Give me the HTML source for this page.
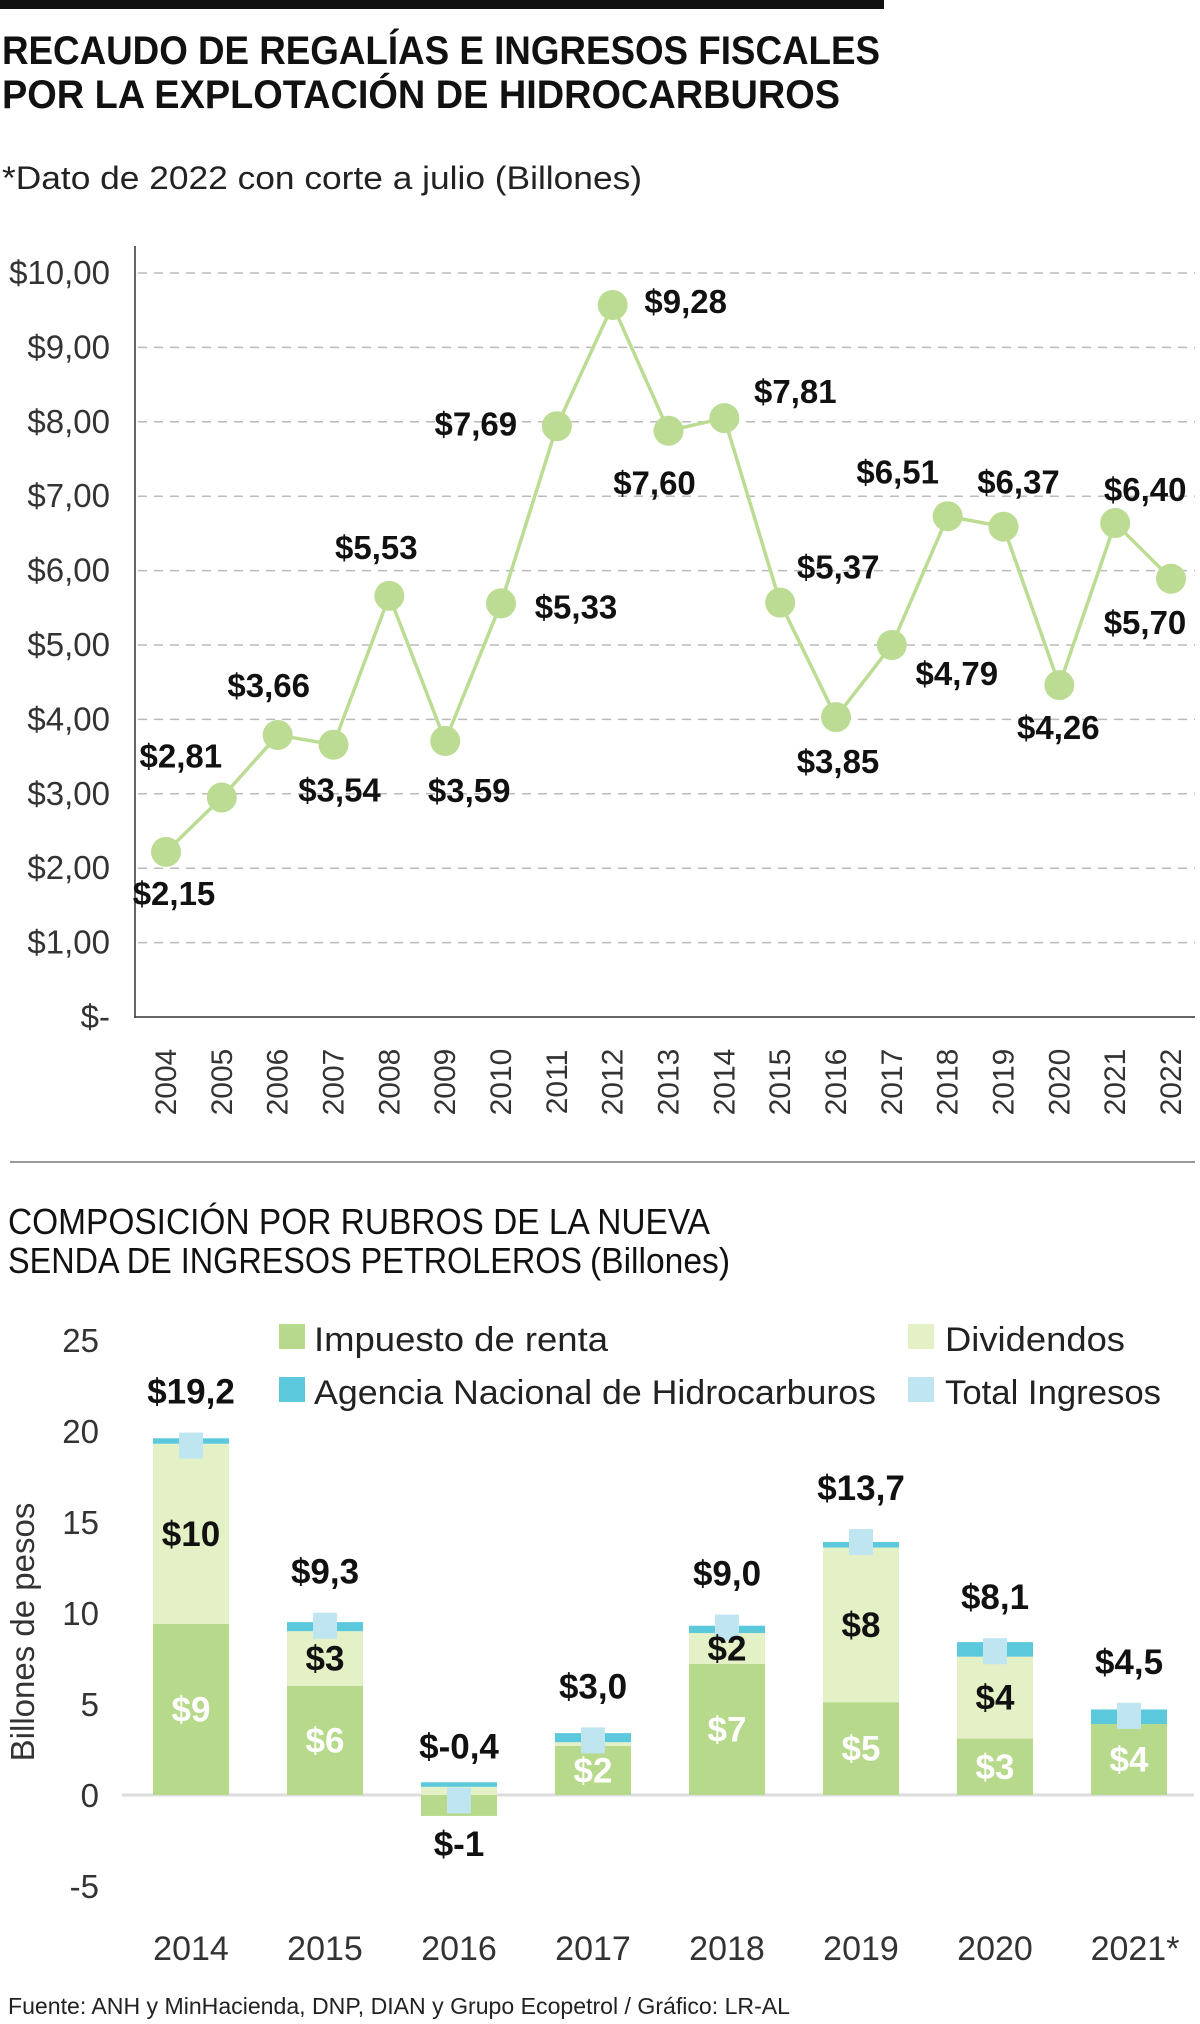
<!DOCTYPE html>
<html><head><meta charset="utf-8">
<style>
html,body{margin:0;padding:0;background:#fff;}
svg{display:block;font-family:"Liberation Sans",sans-serif;}
</style></head>
<body>
<svg id="svg" width="1200" height="2024" viewBox="0 0 1200 2024" xmlns="http://www.w3.org/2000/svg">
<rect x="0" y="0" width="884" height="9" fill="#111"/>
<text x="2" y="64" font-size="40" font-weight="bold" fill="#111" textLength="878" lengthAdjust="spacingAndGlyphs">RECAUDO DE REGALÍAS E INGRESOS FISCALES</text>
<text x="2" y="108" font-size="40" font-weight="bold" fill="#111" textLength="838" lengthAdjust="spacingAndGlyphs">POR LA EXPLOTACIÓN DE HIDROCARBUROS</text>
<text x="2" y="189" font-size="32" fill="#222" textLength="640" lengthAdjust="spacingAndGlyphs">*Dato de 2022 con corte a julio (Billones)</text>
<g id="line-chart"></g>
<line x1="10" y1="1162" x2="1195" y2="1162" stroke="#999" stroke-width="2"/>
<text x="8" y="1234" font-size="36" fill="#111" textLength="702" lengthAdjust="spacingAndGlyphs">COMPOSICIÓN POR RUBROS DE LA NUEVA</text>
<text x="8" y="1273" font-size="36" fill="#111"><tspan textLength="574" lengthAdjust="spacingAndGlyphs">SENDA DE INGRESOS PETROLEROS</tspan><tspan x="590" textLength="140" lengthAdjust="spacingAndGlyphs">(Billones)</tspan></text>
<g id="bar-chart"></g>
<text x="8" y="2014" font-size="23" fill="#222" textLength="782" lengthAdjust="spacingAndGlyphs">Fuente: ANH y MinHacienda, DNP, DIAN y Grupo Ecopetrol / Gráfico: LR-AL</text>
</svg>
<script>
// ---- line chart data ----
const lineYears = ["2004","2005","2006","2007","2008","2009","2010","2011","2012","2013","2014","2015","2016","2017","2018","2019","2020","2021","2022"];
const lineValues = [2.22,2.95,3.79,3.66,5.66,3.71,5.56,7.94,9.57,7.88,8.05,5.57,4.03,5.00,6.73,6.59,4.46,6.64,5.89];
const lineLabels = ["$2,15","$2,81","$3,66","$3,54","$5,53","$3,59","$5,33","$7,69","$9,28","$7,60","$7,81","$5,37","$3,85","$4,79","$6,51","$6,37","$4,26","$6,40","$5,70"];
const lineTicks = [0,1,2,3,4,5,6,7,8,9,10];
const lineTickLabels = ["$-","$1,00","$2,00","$3,00","$4,00","$5,00","$6,00","$7,00","$8,00","$9,00","$10,00"];
// ---- bar chart data ----
const barYears = ["2014","2015","2016","2017","2018","2019","2020","2021*"];
const impuesto = [9.4,6.0,-1.15,2.7,7.2,5.1,3.1,3.9];
const dividendos = [9.9,3.0,0.45,0.2,1.7,8.5,4.5,0];
const anh = [0.3,0.5,0.25,0.5,0.4,0.3,0.8,0.8];
const totals = [19.2,9.3,-0.3,3.0,9.2,13.9,7.9,4.35];
const totalLabels = ["$19,2","$9,3","$-0,4","$3,0","$9,0","$13,7","$8,1","$4,5"];
const impLabels = ["$9","$6","$-1","$2","$7","$5","$3","$4"];
const divLabels = ["$10","$3","","","$2","$8","$4",""];
const barTicks = [-5,0,5,10,15,20,25];

const NS="http://www.w3.org/2000/svg";
function mk(tag, attrs, parent){const e=document.createElementNS(NS,tag);for(const k in attrs)e.setAttribute(k,attrs[k]);parent.appendChild(e);return e;}

// line chart
const lc=document.getElementById('line-chart');
const lx=i=>166+i*(1171-166)/(lineYears.length-1);
const ly=v=>1017-v*74.4;
lineTicks.forEach((t,i)=>{
  if(t>0){const g=mk('line',{x1:138,x2:1195,y1:ly(t),y2:ly(t),stroke:'#bbb','stroke-width':1.5,'stroke-dasharray':'9 7'},lc);
  
  }
  const tl=mk('text',{x:110,y:ly(t)+11,'font-size':33,fill:'#333','text-anchor':'end'},lc);
  tl.textContent=lineTickLabels[i];
  
  
});
const ya=mk('line',{x1:135,x2:135,y1:246,y2:1018,stroke:'#333','stroke-width':1.5},lc);


const xa=mk('line',{x1:135,x2:1195,y1:1017,y2:1017,stroke:'#333','stroke-width':1.5},lc);


const pl=mk('polyline',{points:lineValues.map((v,i)=>lx(i)+','+ly(v)).join(' '),fill:'none',stroke:'#bcdc94','stroke-width':3.5},lc);


const off=[[8,41],[-41,-42],[-9,-50],[6,45],[-13,-49],[24,49],[75,3],[-81,-3],[73,-4],[-14,52],[71,-27],[58,-36],[2,44],[65,28],[-50,-45],[15,-45],[-1,42],[30,-34],[-26,43]];
lineValues.forEach((v,i)=>{
  const c=mk('circle',{cx:lx(i),cy:ly(v),r:15,fill:'#bcdc94'},lc);
  
  
  const t=mk('text',{x:lx(i)+off[i][0],y:ly(v)+off[i][1]+12,'font-size':33,'font-weight':'bold',fill:'#111','text-anchor':'middle'},lc);
  t.textContent=lineLabels[i];
  
  
  const yl=mk('text',{x:0,y:0,'font-size':30,fill:'#333','text-anchor':'middle',transform:`translate(${lx(i)+10},1082) rotate(-90)`},lc);
  yl.textContent=lineYears[i];
  
  
});

// bar chart
const bc=document.getElementById('bar-chart');
const by=v=>1795-v*18.2;
const bx=i=>191+i*134;
const bw=76;
barTicks.forEach(t=>{
  const tl=mk('text',{x:99,y:by(t)+12,'font-size':33,fill:'#333','text-anchor':'end'},bc);
  tl.textContent=String(t);
  
  
});
const yt=mk('text',{x:0,y:0,'font-size':33,fill:'#333','text-anchor':'middle',transform:'translate(34,1632) rotate(-90)'},bc);
yt.textContent='Billones de pesos';


const zl=mk('line',{x1:122,x2:1194,y1:by(0),y2:by(0),stroke:'#ddd','stroke-width':3},bc);


barYears.forEach((yr,i)=>{
  const cx=bx(i), x0=cx-bw/2;
  const iv=impuesto[i];
  const r1=mk('rect',{x:x0,y:Math.min(by(0),by(iv)),width:bw,height:Math.abs(by(iv)-by(0)),fill:'#b7d98b'},bc);
  
  
  const base=Math.max(iv,0);
  const r2=mk('rect',{x:x0,y:by(base+dividendos[i]),width:bw,height:by(base)-by(base+dividendos[i]),fill:'#e4f0c5'},bc);
  
  
  const b2=base+dividendos[i];
  const r3=mk('rect',{x:x0,y:by(b2+anh[i]),width:bw,height:by(b2)-by(b2+anh[i]),fill:'#5bc8dc'},bc);
  
  
  const mkr=mk('rect',{x:cx-12,y:by(totals[i])-13,width:24,height:26,fill:'#bfe6f0'},bc);
  
  
  const tl=mk('text',{x:cx,y:by(totals[i])-42,'font-size':35,'font-weight':'bold',fill:'#111','text-anchor':'middle'},bc);
  tl.textContent=totalLabels[i];
  
  
  let iy, icol='#fff';
  if(iv<0){iy=by(iv)+40;icol='#111';} else {iy=Math.min((by(0)+by(iv))/2+12, by(0)-6);}
  const il=mk('text',{x:cx,y:iy,'font-size':35,'font-weight':'bold',fill:icol,'text-anchor':'middle'},bc);
  il.textContent=impLabels[i];
  
  
  if(divLabels[i]){
    const dl=mk('text',{x:cx,y:(by(base)+by(b2))/2+12,'font-size':35,'font-weight':'bold',fill:'#111','text-anchor':'middle'},bc);
    dl.textContent=divLabels[i];
    
    
  }
  const xl=mk('text',{x:cx+(i===7?6:0),y:1960,'font-size':34,fill:'#333','text-anchor':'middle'},bc);
  xl.textContent=yr;
  
  
});
// legend
const legend=[['Impuesto de renta','#b7d98b',279,1324,314,1351,294],['Agencia Nacional de Hidrocarburos','#5bc8dc',279,1377,314,1404,562],['Dividendos','#e4f0c5',908,1324,945,1351,180],['Total Ingresos','#bfe6f0',908,1377,945,1404,216]];
legend.forEach(l=>{
  const g=mk('g',{},bc);
  
  
  mk('rect',{x:l[2],y:l[3],width:26,height:25,fill:l[1]},g);
  const t=mk('text',{x:l[4],y:l[5],'font-size':34,fill:'#222',textLength:l[6],lengthAdjust:'spacingAndGlyphs'},g);
  t.textContent=l[0];
});
</script>
</body></html>
